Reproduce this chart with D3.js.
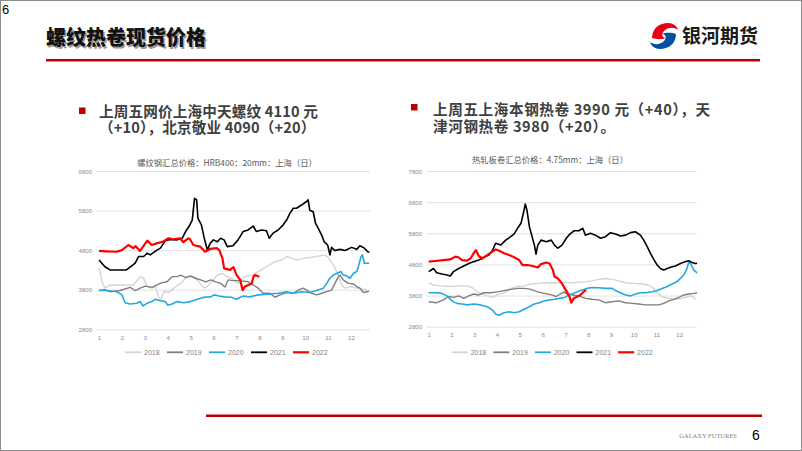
<!DOCTYPE html>
<html><head><meta charset="utf-8">
<script src="https://cdn.jsdelivr.net/npm/d3@7"></script>
<style>
html,body{margin:0;padding:0;background:#fff;}
svg{display:block;}
</style></head>
<body>
<script>
const monthTicks = [1,2,3,4,5,6,7,8,9,10,11,12];
const years = ["2018","2019","2020","2021","2022"];
const yearColors = ["#d4d4d4","#7f7f7f","#25a8e0","#000000","#ff0000"];
const yearWidths = [1.4,1.4,1.6,1.6,2.2];
const rebarTicks = [2800,3800,4800,5800,6800];
const hrcTicks = [2800,3800,4800,5800,6800,7800];

// Rebar (left) — [month, price]
const rebar2018 = [[1.0,4340],[1.16,3960],[1.26,3840],[1.48,3920],[1.92,3920],[2.5,3920],[2.8,4130],[2.95,4090],[3.1,3880],[3.31,3840],[3.46,3880],[3.6,3630],[3.68,3540],[3.83,3750],[4.05,3730],[4.27,3840],[4.56,3960],[4.78,4090],[5.0,4130],[5.29,4050],[5.58,3840],[5.73,3880],[5.95,4030],[6.17,4170],[6.39,4210],[6.6,4130],[6.78,4090],[7.07,3960],[7.36,4130],[7.66,4170],[7.95,4260],[8.31,4380],[8.68,4510],[8.97,4550],[9.19,4640],[9.4,4600],[9.62,4550],[9.99,4600],[10.28,4620],[10.57,4650],[10.86,4680],[11.0,4620],[11.23,4420],[11.45,4170],[11.6,3920],[11.74,3840],[11.96,3880],[12.2,3850],[12.45,3820],[12.7,3800]];
const rebar2019 = [[1.0,3780],[1.26,3800],[1.48,3750],[1.92,3780],[2.36,3860],[2.58,3780],[2.8,3840],[3.02,3890],[3.31,3860],[3.53,3920],[3.75,3980],[3.97,4000],[4.19,4130],[4.41,4130],[4.56,4170],[4.78,4110],[5.0,4150],[5.22,4090],[5.44,4050],[5.66,4000],[5.88,4050],[6.1,4000],[6.31,3960],[6.5,3870],[6.64,4050],[6.85,4030],[7.15,4030],[7.51,4000],[7.73,3920],[7.95,3840],[8.17,3710],[8.46,3710],[8.68,3610],[8.9,3670],[9.19,3730],[9.48,3710],[9.7,3790],[9.92,3840],[10.06,3790],[10.28,3710],[10.5,3670],[10.72,3710],[10.94,3750],[11.15,3790],[11.3,3960],[11.45,4130],[11.52,4170],[11.66,4050],[11.88,3960],[12.1,3950],[12.25,3880],[12.39,3840],[12.54,3730],[12.69,3750],[12.79,3760]];
const rebar2020 = [[1.0,3780],[1.34,3780],[1.78,3750],[2.0,3670],[2.14,3470],[2.36,3440],[2.65,3460],[2.8,3500],[2.92,3390],[3.1,3460],[3.31,3500],[3.46,3560],[3.68,3520],[3.9,3500],[4.0,3410],[4.19,3440],[4.41,3500],[4.7,3470],[5.0,3500],[5.29,3560],[5.58,3610],[5.88,3620],[6.02,3670],[6.24,3640],[6.46,3620],[6.78,3610],[7.0,3560],[7.29,3640],[7.58,3620],[7.95,3670],[8.38,3690],[8.82,3710],[9.19,3750],[9.48,3710],[9.84,3750],[10.2,3730],[10.5,3780],[10.79,3840],[10.94,3960],[11.08,4090],[11.23,4170],[11.45,4230],[11.56,4260],[11.66,4170],[11.81,4150],[11.96,4090],[12.1,4210],[12.25,4260],[12.32,4380],[12.44,4640],[12.5,4680],[12.58,4470],[12.79,4470]];
const rebar2021 = [[1.0,4550],[1.26,4380],[1.48,4300],[2.2,4300],[2.58,4470],[2.73,4640],[2.95,4640],[3.1,4720],[3.24,4680],[3.53,4800],[3.68,4850],[3.9,5040],[4.12,5070],[4.41,5060],[4.63,5100],[4.78,5270],[4.92,5390],[5.07,5560],[5.17,6110],[5.26,6070],[5.32,5600],[5.47,5440],[5.58,5140],[5.73,4800],[5.85,4970],[5.99,5060],[6.17,5010],[6.31,5100],[6.46,5060],[6.6,4890],[6.85,4910],[7.07,5060],[7.29,5270],[7.51,5310],[7.73,5410],[7.87,5270],[8.09,5310],[8.31,5290],[8.43,5100],[8.6,5230],[8.82,5310],[9.04,5440],[9.19,5560],[9.33,5730],[9.48,5860],[9.62,5860],[9.84,5940],[10.06,6030],[10.13,6070],[10.2,5810],[10.35,5770],[10.45,5480],[10.57,5350],[10.72,5180],[10.83,5010],[10.98,4930],[11.08,4680],[11.15,4870],[11.3,4790],[11.52,4820],[11.74,4790],[12.03,4870],[12.25,4820],[12.39,4910],[12.58,4850],[12.73,4760],[12.8,4750]];
const rebar2022 = [[1.0,4780],[1.3,4770],[1.77,4760],[2.0,4800],[2.28,4930],[2.5,4850],[2.6,4900],[2.79,4780],[3.11,5040],[3.3,4930],[3.52,4970],[3.8,5015],[4.03,5100],[4.25,5075],[4.54,5100],[4.68,5000],[4.9,5100],[4.97,5075],[5.12,4930],[5.41,4890],[5.63,4760],[5.85,4830],[6.14,4850],[6.25,4800],[6.39,4590],[6.46,4340],[6.72,4300],[6.87,4370],[7.01,4170],[7.16,4050],[7.27,3790],[7.37,3880],[7.52,3920],[7.67,3960],[7.74,4130],[7.81,4170],[8.0,4130]];

// Hot-rolled coil (right) — [month, price]
const hrc2018 = [[1.0,4210],[1.21,4140],[1.5,4110],[1.95,4090],[2.39,4110],[2.68,4110],[2.9,4060],[3.13,3920],[3.35,3850],[3.57,3790],[3.79,3740],[4.01,3820],[4.31,3890],[4.6,4030],[4.9,4090],[5.19,4110],[5.49,4170],[5.79,4190],[6.08,4210],[6.38,4210],[6.67,4210],[7.0,4210],[7.44,4220],[7.88,4240],[8.17,4270],[8.46,4320],[8.76,4350],[9.05,4320],[9.34,4270],[9.64,4210],[10.0,4190],[10.37,4170],[10.66,4140],[10.88,4030],[11.03,3890],[11.25,3760],[11.54,3710],[11.83,3680],[12.12,3710],[12.34,3760],[12.56,3790],[12.71,3680]];
const hrc2019 = [[1.0,3600],[1.35,3570],[1.65,3660],[1.87,3770],[2.09,3740],[2.31,3790],[2.54,3710],[2.76,3790],[2.98,3850],[3.2,3820],[3.42,3890],[3.72,3890],[4.01,3920],[4.31,3960],[4.6,4000],[4.9,4030],[5.19,4030],[5.49,4000],[5.79,3920],[6.08,3870],[6.38,3820],[6.6,3770],[6.82,3870],[6.97,3920],[7.0,3870],[7.29,3820],[7.59,3790],[7.88,3710],[8.17,3680],[8.46,3660],[8.76,3570],[9.05,3600],[9.34,3630],[9.64,3570],[9.93,3550],[10.22,3530],[10.51,3500],[10.81,3500],[11.1,3500],[11.32,3550],[11.54,3630],[11.76,3680],[11.98,3740],[12.2,3820],[12.42,3850],[12.64,3870],[12.78,3890]];
const hrc2020 = [[1.0,3890],[1.35,3890],[1.58,3870],[1.8,3790],[2.02,3630],[2.24,3550],[2.46,3530],[2.68,3500],[2.98,3530],[3.27,3500],[3.57,3440],[3.79,3340],[3.94,3210],[4.09,3170],[4.31,3250],[4.53,3280],[4.75,3250],[4.97,3280],[5.19,3360],[5.42,3440],[5.64,3530],[5.86,3570],[6.08,3630],[6.3,3660],[6.52,3680],[6.75,3710],[6.97,3740],[7.15,3820],[7.37,3870],[7.51,3920],[7.73,3980],[7.95,4030],[8.17,4060],[8.46,4050],[8.76,4030],[9.05,4030],[9.2,3960],[9.42,3890],[9.64,3820],[9.86,3790],[10.07,3850],[10.29,3890],[10.51,3890],[10.81,3920],[11.03,3960],[11.25,4030],[11.47,4090],[11.69,4170],[11.9,4250],[12.05,4350],[12.2,4460],[12.34,4670],[12.42,4890],[12.49,4830],[12.64,4620],[12.78,4530]];
const hrc2021 = [[1.0,4570],[1.21,4670],[1.35,4530],[1.58,4490],[1.8,4460],[1.95,4430],[2.09,4570],[2.31,4670],[2.54,4750],[2.76,4830],[2.98,4890],[3.2,4940],[3.42,5030],[3.64,5100],[3.79,5240],[3.94,5480],[4.16,5420],[4.38,5580],[4.6,5690],[4.75,5780],[4.9,5960],[5.05,6120],[5.17,6490],[5.24,6740],[5.31,6550],[5.42,6010],[5.52,5740],[5.64,5420],[5.71,5130],[5.79,5420],[5.93,5580],[6.16,5530],[6.38,5580],[6.52,5420],[6.67,5320],[6.85,5420],[7.04,5640],[7.15,5740],[7.37,5880],[7.59,5880],[7.76,5960],[7.88,5740],[8.1,5800],[8.32,5740],[8.54,5640],[8.76,5690],[8.98,5820],[9.2,5780],[9.42,5710],[9.64,5740],[9.86,5820],[10.07,5850],[10.29,5740],[10.44,5580],[10.59,5370],[10.73,5160],[10.88,4960],[11.03,4780],[11.17,4670],[11.32,4620],[11.47,4670],[11.61,4710],[11.83,4750],[12.05,4830],[12.27,4890],[12.42,4920],[12.56,4860],[12.71,4830],[12.78,4840]];
const hrc2022 = [[1.0,4890],[1.28,4910],[1.65,4940],[1.95,4960],[2.17,5050],[2.31,5030],[2.46,4940],[2.68,4920],[2.83,4990],[2.98,5160],[3.07,5260],[3.2,5070],[3.35,4990],[3.57,5100],[3.79,5210],[3.94,5280],[4.09,5240],[4.31,5160],[4.53,5100],[4.75,5030],[4.97,4940],[5.12,4780],[5.34,4780],[5.56,4750],[5.79,4700],[5.93,4810],[6.16,4860],[6.3,4830],[6.45,4620],[6.52,4410],[6.67,4350],[6.85,4190],[6.97,4030],[7.07,3920],[7.18,3760],[7.26,3570],[7.37,3710],[7.51,3760],[7.66,3820],[7.8,3920],[7.91,3980]];

const W = 802, H = 451;
const svg = d3.select("body").append("svg").attr("width", W).attr("height", H);
svg.append("rect").attr("x",0.5).attr("y",0.5).attr("width",W-1).attr("height",H-1).attr("fill","#fff").attr("stroke","#8c8c8c");

const cjk = "'Noto Sans CJK SC','Microsoft YaHei',sans-serif";
const latin = "'Liberation Sans',Arial,sans-serif";

// page number top-left
svg.append("text").attr("x",2).attr("y",14).attr("font-family",latin).attr("font-size",13).attr("fill","#000").text("6");

// header title with shadow
const title = "螺纹热卷现货价格";
svg.append("text").attr("x",47.5).attr("y",46.5).attr("font-family",cjk).attr("font-weight",900).attr("font-size",20).attr("fill","#9a9a9a").text(title);
svg.append("text").attr("x",46).attr("y",45).attr("font-family",cjk).attr("font-weight",900).attr("font-size",20).attr("fill","#111").text(title);
svg.append("rect").attr("x",46).attr("y",59).attr("width",714).attr("height",2.5).attr("fill","#c00000");

// logo
const lg = svg.append("g").attr("transform","translate(664,36)");
lg.append("path").attr("d","M-12,2 C-12,-8 -4,-13 4,-13 C9,-13 13,-10 14,-6 C10,-9 4,-9 0,-5 C-3,-2 -2,2 2,2 C-4,4 -8,3 -12,2 Z").attr("fill","#e60012");
lg.append("path").attr("d","M12,-2 C12,8 4,13 -4,13 C-9,13 -13,10 -14,6 C-10,9 -4,9 0,5 C3,2 2,-2 -2,-2 C4,-4 8,-3 12,-2 Z").attr("fill","#0050a0");
svg.append("text").attr("x",682).attr("y",43).attr("font-family",cjk).attr("font-weight",700).attr("font-size",19).attr("fill","#1a1a1a").text("银河期货");

// bullets
function bullet(x, y, lines, sq, ls) {
  svg.append("rect").attr("x",sq[0]).attr("y",sq[1]).attr("width",6.5).attr("height",6.5).attr("fill","#c00000");
  lines.forEach((l,i)=>{
    svg.append("text").attr("x",x).attr("y",y + i*16.7).attr("font-family",cjk).attr("font-weight",700).attr("font-size",14.6).attr("letter-spacing",ls).attr("fill","#404040").attr("xml:space","preserve").text(l);
  });
}
bullet(99, 116.5, ["上周五网价上海中天螺纹 4110 元","（+10），北京敬业 4090（+20）"], [79,107.5], 0.15);
bullet(433, 115, ["上周五上海本钢热卷 3990 元（+40），天","津河钢热卷 3980（+20）。"], [411,104], 0.6);

// chart function
function chart(cfg) {
  const x = d3.scaleLinear().domain([1,12]).range(cfg.xr);
  const y = d3.scaleLinear().domain([cfg.ticks[0], cfg.ticks[cfg.ticks.length-1]]).range(cfg.yr);
  const g = svg.append("g");
  g.append("text").attr("x",cfg.titleX).attr("y",cfg.titleY).attr("text-anchor","middle").attr("font-family",cjk).attr("font-size",8.3).attr("fill","#595959").text(cfg.title);
  const yAxis = d3.axisLeft(y).tickValues(cfg.ticks).tickSize(-(cfg.gx[1]-cfg.gx[0])).tickFormat(d3.format("d"));
  const ya = g.append("g").attr("transform",`translate(${cfg.gx[0]},0)`).call(yAxis);
  ya.select(".domain").remove();
  ya.selectAll(".tick line").attr("stroke","#d9d9d9").attr("stroke-width",0.8);
  ya.selectAll(".tick text").attr("x",-4.5).attr("dy","0.35em").attr("font-family",latin).attr("font-size",6.2).attr("fill","#8c8c8c");
  const xAxis = d3.axisBottom(x).tickValues(monthTicks).tickSize(0).tickFormat(d3.format("d"));
  const xa = g.append("g").attr("transform",`translate(0,${cfg.yr[0]})`).call(xAxis);
  xa.select(".domain").remove();
  xa.selectAll(".tick text").attr("y",6).attr("dy","0.71em").attr("font-family",latin).attr("font-size",6.2).attr("fill","#8c8c8c");
  const line = d3.line().x(d=>x(d[0])).y(d=>y(d[1]));
  cfg.series.forEach((s,i)=>{
    g.append("path").datum(s).attr("d",line).attr("fill","none").attr("stroke",yearColors[i]).attr("stroke-width",yearWidths[i]).attr("stroke-linejoin","round");
  });
  // legend
  const lgd = g.append("g");
  years.forEach((yr,i)=>{
    const lx = cfg.legX + i*cfg.legStep;
    lgd.append("line").attr("x1",lx).attr("x2",lx+16).attr("y1",cfg.legY).attr("y2",cfg.legY).attr("stroke",yearColors[i]).attr("stroke-width",i===4?2.2:1.8);
    lgd.append("text").attr("x",lx+19).attr("y",cfg.legY).attr("dy","0.35em").attr("font-family",latin).attr("font-size",7).attr("fill","#7f7f7f").text(yr);
  });
}

chart({title:"螺纹钢汇总价格：HRB400：20mm：上海（日）", titleX:227, titleY:166,
  ticks:rebarTicks, xr:[99,351], yr:[329.3,171], gx:[96.7,370],
  series:[rebar2018,rebar2019,rebar2020,rebar2021,rebar2022],
  legX:125, legStep:42, legY:352.3});
chart({title:"热轧板卷汇总价格：4.75mm：上海（日）", titleX:550, titleY:163,
  ticks:hrcTicks, xr:[428.7,679.3], yr:[326.7,171], gx:[426.7,696.7],
  series:[hrc2018,hrc2019,hrc2020,hrc2021,hrc2022],
  legX:451.7, legStep:41.6, legY:352.3});

// footer
svg.append("rect").attr("x",206).attr("y",414.5).attr("width",556).attr("height",2.5).attr("fill","#c00000");
svg.append("text").attr("x",737).attr("y",438).attr("text-anchor","end").attr("font-family","'Liberation Serif',serif").attr("font-size",6.5).attr("fill","#7f7f7f").text("GALAXY FUTURES");
svg.append("text").attr("x",752).attr("y",440).attr("font-family",latin).attr("font-size",14).attr("fill","#000").text("6");
</script>
</body></html>
